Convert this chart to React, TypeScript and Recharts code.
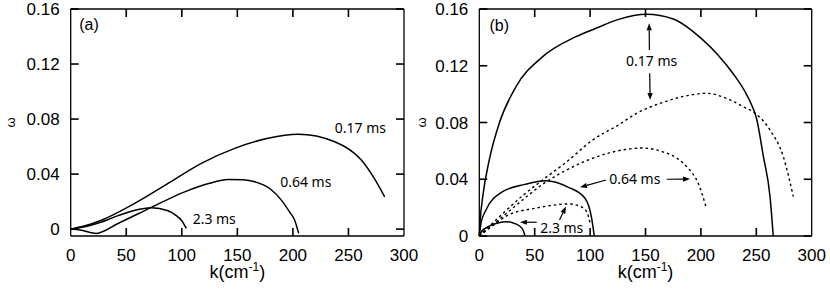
import React from "react";
import {
  LineChart,
  Line,
  XAxis,
  YAxis,
  ReferenceLine,
  ReferenceDot,
} from "recharts";

const FONT = "'Liberation Sans', Arial, Helvetica, sans-serif";
const NOTE_FONT = "'Noto Sans', 'Open Sans', sans-serif";

const X_TICKS = [0, 50, 100, 150, 200, 250, 300];
const Y_TICKS = [0, 0.04, 0.08, 0.12, 0.16];

// panel (a)
const kA017 = [0, 12, 27.6, 57.6, 87.6, 117.6, 147.6, 177.6, 204.6, 237.6, 261.6, 272, 282.6];
const wA017 = [0, 0.0022, 0.0065, 0.0187, 0.0332, 0.0478, 0.0587, 0.066, 0.0689, 0.0635, 0.0502, 0.0385, 0.0235];
const kA064 = [0, 9.6, 23, 42.6, 72.6, 102.6, 125, 141.6, 155, 165.6, 180, 189.6, 197, 201.6, 205.2];
const wA064 = [0, -0.0008, -0.0031, 0.0041, 0.0158, 0.0271, 0.0333, 0.0361, 0.0358, 0.0344, 0.029, 0.0211, 0.0125, 0.0065, -0.0031];
const kA23 = [0, 12.6, 27, 42.6, 57, 72.6, 87.6, 95, 99.6, 104.1];
const wA23 = [0, 0.0017, 0.005, 0.0098, 0.0135, 0.0155, 0.0133, 0.0098, 0.0065, 0.0005];

// panel (b), solid
const kB017 = [0, 0.6, 3.1, 9, 18, 33.1, 57.2, 87.3, 105.3, 125, 151, 175, 200, 215, 230, 240, 246, 250, 256.3, 262.4, 265.3];
const wB017 = [0, 0.009, 0.0277, 0.0536, 0.0794, 0.1052, 0.1264, 0.1405, 0.1464, 0.1525, 0.1563, 0.153, 0.1395, 0.128, 0.1135, 0.1015, 0.092, 0.0835, 0.0565, 0.0277, 0];
const kB064 = [0, 1.5, 6, 21, 41.2, 60.2, 80, 95.4, 101.4, 103.8];
const wB064 = [0, 0.009, 0.0183, 0.0312, 0.0364, 0.039, 0.0345, 0.0266, 0.0125, 0];
const kB23 = [0, 2, 8.1, 15, 23.2, 30, 36, 39.5, 41.2];
const wB23 = [0, 0.003, 0.0066, 0.0088, 0.0101, 0.0094, 0.0072, 0.0042, 0];

// panel (b), dotted
const kB017d = [0, 20, 40, 57.2, 80, 102.3, 125, 142, 165, 185, 205, 226.3, 238.3, 249, 262.4, 274.4, 283.4];
const wB017d = [0, 0.015, 0.029, 0.0395, 0.053, 0.0677, 0.078, 0.0865, 0.094, 0.0985, 0.1006, 0.0959, 0.0911, 0.0865, 0.0747, 0.0559, 0.0277];
const kB064d = [0, 20, 40, 57.2, 80, 102.3, 125, 147, 165, 178, 188.6, 197.7, 205];
const wB064d = [0, 0.013, 0.026, 0.0365, 0.047, 0.0548, 0.06, 0.062, 0.0595, 0.055, 0.0477, 0.037, 0.0195];
const kB23d = [0, 10, 26.2, 50, 65, 80, 90, 96.9, 100];
const wB23d = [0, 0.006, 0.0148, 0.0195, 0.0215, 0.0226, 0.0212, 0.0171, 0.009];

const pts = (ks: number[], ws: number[]) => ks.map((k, i) => ({ k, w: ws[i] }));

type Series = { id: string; data: { k: number; w: number }[]; dotted?: boolean };
type Note = { k: number; w: number; text: string; font?: string; size?: number };
type Arrow = { from: [number, number]; to: [number, number] };

const seriesA: Series[] = [
  { id: "a017", data: pts(kA017, wA017) },
  { id: "a064", data: pts(kA064, wA064) },
  { id: "a23", data: pts(kA23, wA23) },
];

const seriesB: Series[] = [
  { id: "b017", data: pts(kB017, wB017) },
  { id: "b064", data: pts(kB064, wB064) },
  { id: "b23", data: pts(kB23, wB23) },
  { id: "b017d", data: pts(kB017d, wB017d), dotted: true },
  { id: "b064d", data: pts(kB064d, wB064d), dotted: true },
  { id: "b23d", data: pts(kB23d, wB23d), dotted: true },
];

const notesA: Note[] = [
  { k: 16.5, w: 0.1484, text: "(a)", font: FONT, size: 16 },
  { k: 260.8, w: 0.0742, text: "0.17 ms" },
  { k: 211.6, w: 0.0344, text: "0.64 ms" },
  { k: 129.2, w: 0.0078, text: "2.3 ms" },
];

const notesB: Note[] = [
  { k: 18, w: 0.1482, text: "(b)", font: FONT, size: 16 },
  { k: 155.6, w: 0.124, text: "0.17 ms" },
  { k: 140.3, w: 0.0402, text: "0.64 ms" },
  { k: 74.4, w: 0.006, text: "2.3 ms" },
];

const arrowsB: Arrow[] = [
  { from: [153.5, 0.1311], to: [153.3, 0.1499] },
  { from: [153.8, 0.1147], to: [154.2, 0.0959] },
  { from: [114.4, 0.0395], to: [90.9, 0.0343] },
  { from: [169.1, 0.04], to: [190.2, 0.0402] },
  { from: [51.8, 0.0097], to: [36.7, 0.0097] },
  { from: [72.4, 0.0113], to: [78.2, 0.0208] },
];

const arrowShape = (p: any) => {
  const { x1, y1, x2, y2 } = p;
  const a = Math.atan2(y2 - y1, x2 - x1);
  const c = Math.cos(a);
  const s = Math.sin(a);
  const bx = x2 - 7 * c;
  const by = y2 - 7 * s;
  return (
    <g>
      <line x1={x1} y1={y1} x2={bx} y2={by} stroke="#000" strokeWidth={1.2} />
      <polygon
        points={`${x2},${y2} ${bx - s * 2.6},${by + c * 2.6} ${bx + s * 2.6},${by - c * 2.6}`}
        fill="#000"
      />
    </g>
  );
};

const tickShape = (p: any) => (
  <line x1={p.x1} y1={p.y1} x2={p.x2} y2={p.y2} stroke="#000" strokeWidth={1.6} />
);

const tickFmt = (v: number) => (v === 0 ? "0" : v.toFixed(2));
const ink = { stroke: "#000", strokeWidth: 1.3 };
const TOP = 9;
const BOTTOM = 236;
const TICK = 8;

function Panel({
  left,
  width,
  yAxisW,
  right,
  yMin,
  series,
  notes,
  arrows,
  omegaX,
}: {
  left: number;
  width: number;
  yAxisW: number;
  right: number;
  yMin: number;
  series: Series[];
  notes: Note[];
  arrows: Arrow[];
  omegaX: number;
}) {
  const yDomain: [number, number] = [yMin, 0.16];
  const L = yAxisW;
  const R = width - right;
  // inward tick length in data units
  const tickW = (TICK * 300) / (R - L);
  const tickH = (TICK * (0.16 - yMin)) / (BOTTOM - TOP);

  const xTick = (p: any) => (
    <text x={p.x} y={260.5} textAnchor="middle" fontFamily={FONT} fontSize={17} fill="#000">
      {p.payload.value}
    </text>
  );
  const yTick = (p: any) => (
    <text x={L - 11} y={p.y + 6} textAnchor="end" fontFamily={FONT} fontSize={17} fill="#000">
      {tickFmt(p.payload.value)}
    </text>
  );

  const tickSegs: { x: number; y: number }[][] = [];
  X_TICKS.slice(1, -1).forEach((v) => {
    tickSegs.push([{ x: v, y: yMin }, { x: v, y: yMin + tickH }]);
    tickSegs.push([{ x: v, y: 0.16 }, { x: v, y: 0.16 - tickH }]);
  });
  Y_TICKS.forEach((v) => {
    tickSegs.push([{ x: 0, y: v }, { x: tickW, y: v }]);
    tickSegs.push([{ x: 300, y: v }, { x: 300 - tickW, y: v }]);
  });

  return (
    <div style={{ position: "absolute", left, top: 0 }}>
      <LineChart
        width={width}
        height={297}
        margin={{ top: TOP, right, bottom: 0, left: 0 }}
        style={{ overflow: "visible" }}
      >
        <XAxis
          type="number"
          dataKey="k"
          domain={[0, 300]}
          ticks={X_TICKS}
          interval={0}
          height={297 - BOTTOM}
          tickLine={false}
          tick={xTick}
          axisLine={ink}
          label={(p: any) => {
            const vb = p.viewBox;
            const cx = vb.x + vb.width / 2;
            return (
              <text x={cx} y={277.5} textAnchor="middle" fontFamily={FONT} fontSize={18} fill="#000">
                k(cm
                <tspan dy={-7} fontSize={12}>-1</tspan>
                <tspan dy={7}>)</tspan>
              </text>
            );
          }}
        />
        <YAxis
          type="number"
          domain={yDomain}
          ticks={Y_TICKS}
          interval={0}
          width={yAxisW}
          tickLine={false}
          tick={yTick}
          axisLine={ink}
          label={(p: any) => {
            const vb = p.viewBox;
            const cy = vb.y + vb.height / 2;
            return (
              <text
                x={omegaX}
                y={cy}
                textAnchor="middle"
                dominantBaseline="central"
                fontFamily={FONT}
                fontSize={13}
                fill="#000"
                transform={`rotate(-90 ${omegaX} ${cy})`}
              >
                ω
              </text>
            );
          }}
        />
        {/* frame: top and right edges */}
        <XAxis xAxisId="tm" orientation="top" mirror type="number" dataKey="k" domain={[0, 300]}
          ticks={X_TICKS} height={1} tick={false} tickLine={false} axisLine={ink} />
        <YAxis yAxisId="rm" orientation="right" mirror type="number" domain={yDomain}
          ticks={Y_TICKS} width={1} tick={false} tickLine={false} axisLine={ink} />
        {tickSegs.map((seg, i) => (
          <ReferenceLine key={"t" + i} segment={seg} shape={tickShape} ifOverflow="visible" />
        ))}
        {series.map((s) => (
          <Line
            key={s.id}
            data={s.data}
            dataKey="w"
            type="monotone"
            stroke="#000"
            strokeWidth={s.dotted ? 1.4 : 1.5}
            strokeDasharray={s.dotted ? "2.5 3" : undefined}
            dot={false}
            activeDot={false}
            isAnimationActive={false}
          />
        ))}
        {arrows.map((a, i) => (
          <ReferenceLine
            key={"ar" + i}
            segment={[
              { x: a.from[0], y: a.from[1] },
              { x: a.to[0], y: a.to[1] },
            ]}
            shape={arrowShape}
            ifOverflow="visible"
          />
        ))}
        {notes.map((n, i) => (
          <ReferenceDot
            key={"n" + i}
            x={n.k}
            y={n.w}
            r={0}
            ifOverflow="visible"
            shape={(p: any) => (
              <text
                x={p.cx}
                y={p.cy}
                textAnchor="middle"
                dominantBaseline="central"
                fontFamily={n.font || NOTE_FONT}
                fontSize={n.size || 14}
                fill="#000"
              >
                {n.text}
              </text>
            )}
          />
        ))}
      </LineChart>
    </div>
  );
}

export default function App() {
  return (
    <div
      style={{
        position: "absolute",
        left: 0,
        top: 0,
        width: 830,
        height: 297,
        background: "#fff",
        overflow: "hidden",
      }}
    >
      <Panel
        left={0}
        width={440}
        yAxisW={70.7}
        right={36}
        yMin={-0.005}
        series={seriesA}
        notes={notesA}
        arrows={[]}
        omegaX={10}
      />
      <Panel
        left={415}
        width={415}
        yAxisW={64.3}
        right={18.3}
        yMin={0}
        series={seriesB}
        notes={notesB}
        arrows={arrowsB}
        omegaX={6}
      />
    </div>
  );
}
